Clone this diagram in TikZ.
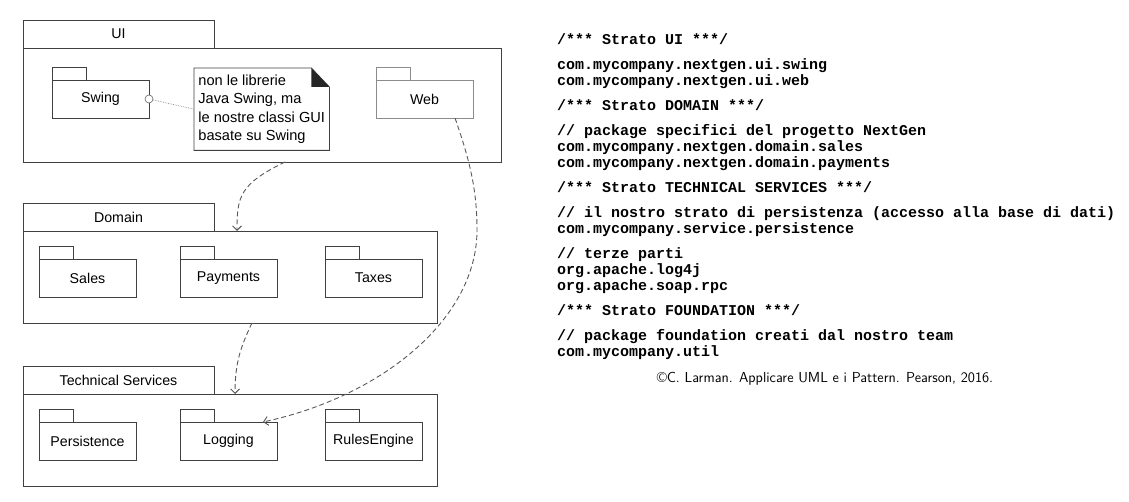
\documentclass[tikz,border=0pt]{standalone}
\usepackage{fontspec}
\setmainfont{Liberation Sans}
\setmonofont{Liberation Mono}
\usetikzlibrary{arrows.meta}
\tikzset{
  pkg/.style={draw=black!75, line width=0.8pt, outer sep=0pt, inner sep=0pt},
  pkgbody/.style={pkg, minimum width=97pt, minimum height=38pt},
  dep/.style={draw=black!65, line width=0.9pt, dash pattern=on 5pt off 3pt,
    -{Straight Barb[length=4.5pt,width=9pt]}},
}
\newcommand{\umlpackage}[5][]{% small package: name, x, y of body, label
  \node[pkgbody,#1,anchor=north west] (#2) at (#3,#4) {#5};
  \draw[pkg,#1] (#2.north west) rectangle ++(34,-13);% tab
}
\newcommand{\umllayer}[5]{% layer: name, top of tab, body width, body height, label
  \node[pkg,anchor=north west,minimum width=191pt,minimum height=28pt] (#1tab) at (23,#2) {#5};
  \node[pkg,anchor=north west,minimum width=#3pt,minimum height=#4pt] (#1) at (#1tab.south west) {};
}

\begin{document}
\begin{tikzpicture}[x=1pt,y=-1pt,font=\fontsize{14.2}{17}\selectfont]
  \useasboundingbox (0,0) rectangle (1129,502);

  \umllayer{ui}{20}{478}{114}{UI}
  \umllayer{domain}{203}{414}{92}{Domain}
  \umllayer{tech}{366}{414}{92}{Technical Services}

  \umlpackage{swing}{52}{80}{Swing}
  \umlpackage[draw=black!45]{web}{376}{80}{Web}
  \umlpackage{sales}{39}{259}{Sales}
  \umlpackage{payments}{180}{259}{Payments}
  \umlpackage{taxes}{325}{259}{Taxes}
  \umlpackage{persistence}{39}{422}{Persistence}
  \umlpackage{logging}{180}{422}{Logging}
  \umlpackage{rules}{325}{422}{RulesEngine}

  % note with folded corner
  \node[anchor=north west,minimum width=135pt,minimum height=82pt,inner sep=0pt,
    align=left,font=\fontsize{14.6}{18.5}\selectfont] (note) at (194,68)
    {non le librerie\\Java Swing, ma\\le nostre classi GUI\\basate su Swing};
  \draw[pkg] (note.north west) -- ([xshift=-18pt]note.north east)
    -- ([yshift=-19pt]note.north east) -- (note.south east) -- (note.south west) -- cycle;
  \fill[black!85] ([xshift=-18pt]note.north east) -- ([xshift=-18pt,yshift=-19pt]note.north east)
    -- ([yshift=-19pt]note.north east) -- cycle;
  \node[circle,draw=black!60,line width=0.6pt,fill=white,inner sep=0pt,minimum size=8pt] (pin) at (swing.east) {};
  \draw[black!45,densely dotted,line width=0.7pt] (pin) -- (note.west);

  % dependencies
  \draw[dep] ([xshift=262pt]ui.south west) .. controls +(-45,22) and +(0,-35) .. ([xshift=214pt]domain.north west);
  \draw[dep] ([xshift=229pt]domain.south west) .. controls +(-12,25) and +(0,-30) .. ([xshift=212pt]tech.north west);
  \coordinate (webbend) at (477,230);
  \draw[dep] ([xshift=79pt]web.south west) .. controls +(15,43) and +(0,-40) .. (webbend)
    .. controls +(0,90) and +(117,-25) .. ([xshift=83pt]logging.north west);

  % package listing
  \node[anchor=north west,inner sep=0pt,align=left,
    font=\ttfamily\bfseries\fontsize{15}{16}\selectfont] (listing) at (557,33) {%
    /*** Strato UI ***/\\[9pt]
    com.mycompany.nextgen.ui.swing\\
    com.mycompany.nextgen.ui.web\\[9pt]
    /*** Strato DOMAIN ***/\\[9pt]
    // package specifici del progetto NextGen\\
    com.mycompany.nextgen.domain.sales\\
    com.mycompany.nextgen.domain.payments\\[9pt]
    /*** Strato TECHNICAL SERVICES ***/\\[9pt]
    // il nostro strato di persistenza (accesso alla base di dati)\\
    com.mycompany.service.persistence\\[9pt]
    // terze parti\\
    org.apache.log4j\\
    org.apache.soap.rpc\\[9pt]
    /*** Strato FOUNDATION ***/\\[9pt]
    // package foundation creati dal nostro team\\
    com.mycompany.util};
  \node[font=\sffamily\fontsize{14.5}{16}\selectfont] (credit) at (825,379)
    {\textcopyright C. Larman. Applicare UML e i Pattern. Pearson, 2016.};
\end{tikzpicture}
\end{document}
